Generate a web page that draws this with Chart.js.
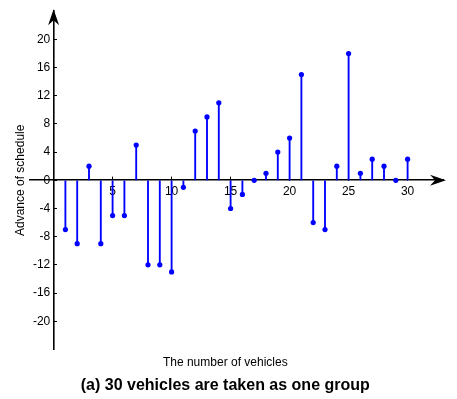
<!DOCTYPE html>
<html>
<head>
<meta charset="utf-8">
<script src="https://cdn.jsdelivr.net/npm/chart.js@4/dist/chart.umd.min.js"></script>
<style>
  html, body { margin: 0; padding: 0; background: #fff; }
  #wrap { width: 457px; height: 399px; }
</style>
</head>
<body>
<div id="wrap"><canvas id="c" width="457" height="399"></canvas></div>
<script>
// Vehicle index along the x axis
const vehicles = [1, 2, 3, 4, 5, 6, 7, 8, 9, 10, 11, 12, 13, 14, 15,
                  16, 17, 18, 19, 20, 21, 22, 23, 24, 25, 26, 27, 28, 29, 30];
// Advance of schedule for each vehicle
const advance = [-7, -9, 2, -9, -5, -5, 5, -12, -12, -13, -1, 7, 9, 11, -4,
                 -2, 0, 1, 4, 6, 15, -6, -7, 2, 18, 1, 3, 2, 0, 3];
// Tick labels
const xTicks = [5, 10, 15, 20, 25, 30];
const yTicks = [-20, -16, -12, -8, -4, 0, 4, 8, 12, 16, 20];

const xTitle = 'The number of vehicles';
const yTitle = 'Advance of schedule';
const caption = '(a) 30 vehicles are taken as one group';

const points = vehicles.map((v, i) => ({ x: v, y: advance[i] }));
const BLUE = '#0000ff';
const FONT = 'Arial, "Liberation Sans", Helvetica, sans-serif';

// Arrowheads at the positive ends of both axes
const arrows = {
  id: 'arrows',
  afterDraw(chart) {
    const { ctx, chartArea, scales } = chart;
    const y0 = scales.y.getPixelForValue(0);
    const x0 = scales.x.getPixelForValue(0);
    ctx.save();
    ctx.fillStyle = '#000';
    // x axis arrow
    const tx = chartArea.right + 3;
    ctx.beginPath();
    ctx.moveTo(tx, y0);
    ctx.lineTo(tx - 16, y0 - 5.5);
    ctx.lineTo(tx - 11, y0);
    ctx.lineTo(tx - 16, y0 + 5.5);
    ctx.closePath();
    ctx.fill();
    // y axis arrow
    const ty = chartArea.top - 2;
    ctx.beginPath();
    ctx.moveTo(x0, ty);
    ctx.lineTo(x0 - 5.5, ty + 16);
    ctx.lineTo(x0, ty + 11);
    ctx.lineTo(x0 + 5.5, ty + 16);
    ctx.closePath();
    ctx.fill();
    ctx.restore();
  }
};

new Chart(document.getElementById('c'), {
  type: 'bar',
  data: {
    datasets: [
      {
        type: 'scatter',
        data: points,
        pointRadius: 2.6,
        pointHoverRadius: 2.6,
        pointBackgroundColor: BLUE,
        pointBorderColor: BLUE,
        pointBorderWidth: 0,
        order: 0
      },
      {
        type: 'bar',
        data: points,
        backgroundColor: BLUE,
        borderWidth: 0,
        barThickness: 1.2,
        order: 1
      }
    ]
  },
  options: {
    responsive: false,
    animation: false,
    events: [],
    layout: { padding: { left: 7.6, right: 14, top: 10, bottom: 0 } },
    plugins: {
      legend: { display: false },
      tooltip: { enabled: false },
      subtitle: {
        display: true,
        position: 'bottom',
        text: xTitle,
        color: '#000',
        font: { family: FONT, size: 12, weight: 'normal' },
        padding: { top: 6, bottom: 0 }
      },
      title: {
        display: true,
        position: 'bottom',
        text: caption,
        color: '#000',
        font: { family: FONT, size: 16, weight: 'bold' },
        padding: { top: 6, bottom: 4 }
      }
    },
    scales: {
      x: {
        type: 'linear',
        position: { y: 0 },
        offset: false,
        min: -2,
        max: 33,
        afterFit(s) { s.height = 0; },
        afterBuildTicks(s) { s.ticks = xTicks.map(v => ({ value: v })); },
        grid: { display: true, offset: false, drawOnChartArea: false, drawTicks: true, tickLength: -4, color: '#000', lineWidth: 1 },
        border: { display: true, color: '#000', width: 1.6 },
        ticks: { color: '#000', font: { family: FONT, size: 12 }, padding: 8, maxRotation: 0, autoSkip: false }
      },
      y: {
        type: 'linear',
        position: { x: 0 },
        min: -24,
        max: 24,
        afterFit(s) { s.width = 0; },
        afterBuildTicks(s) { s.ticks = yTicks.map(v => ({ value: v })); },
        grid: { display: true, drawOnChartArea: false, drawTicks: true, tickLength: -4, color: '#000', lineWidth: 1 },
        border: { display: true, color: '#000', width: 1.6 },
        // labels sit right-aligned against the axis; a trailing space keeps a small gap
        ticks: { color: '#000', font: { family: FONT, size: 12 }, padding: 4, autoSkip: false,
                 callback: v => v + ' ' }
      },
      yTitleAxis: {
        type: 'linear',
        position: 'left',
        display: true,
        grid: { display: false, drawTicks: false },
        border: { display: false },
        ticks: { display: false },
        title: {
          display: true,
          text: yTitle,
          color: '#000',
          font: { family: FONT, size: 12 },
          padding: { top: 6, bottom: 2 }
        }
      }
    }
  },
  plugins: [arrows]
});
</script>
</body>
</html>
